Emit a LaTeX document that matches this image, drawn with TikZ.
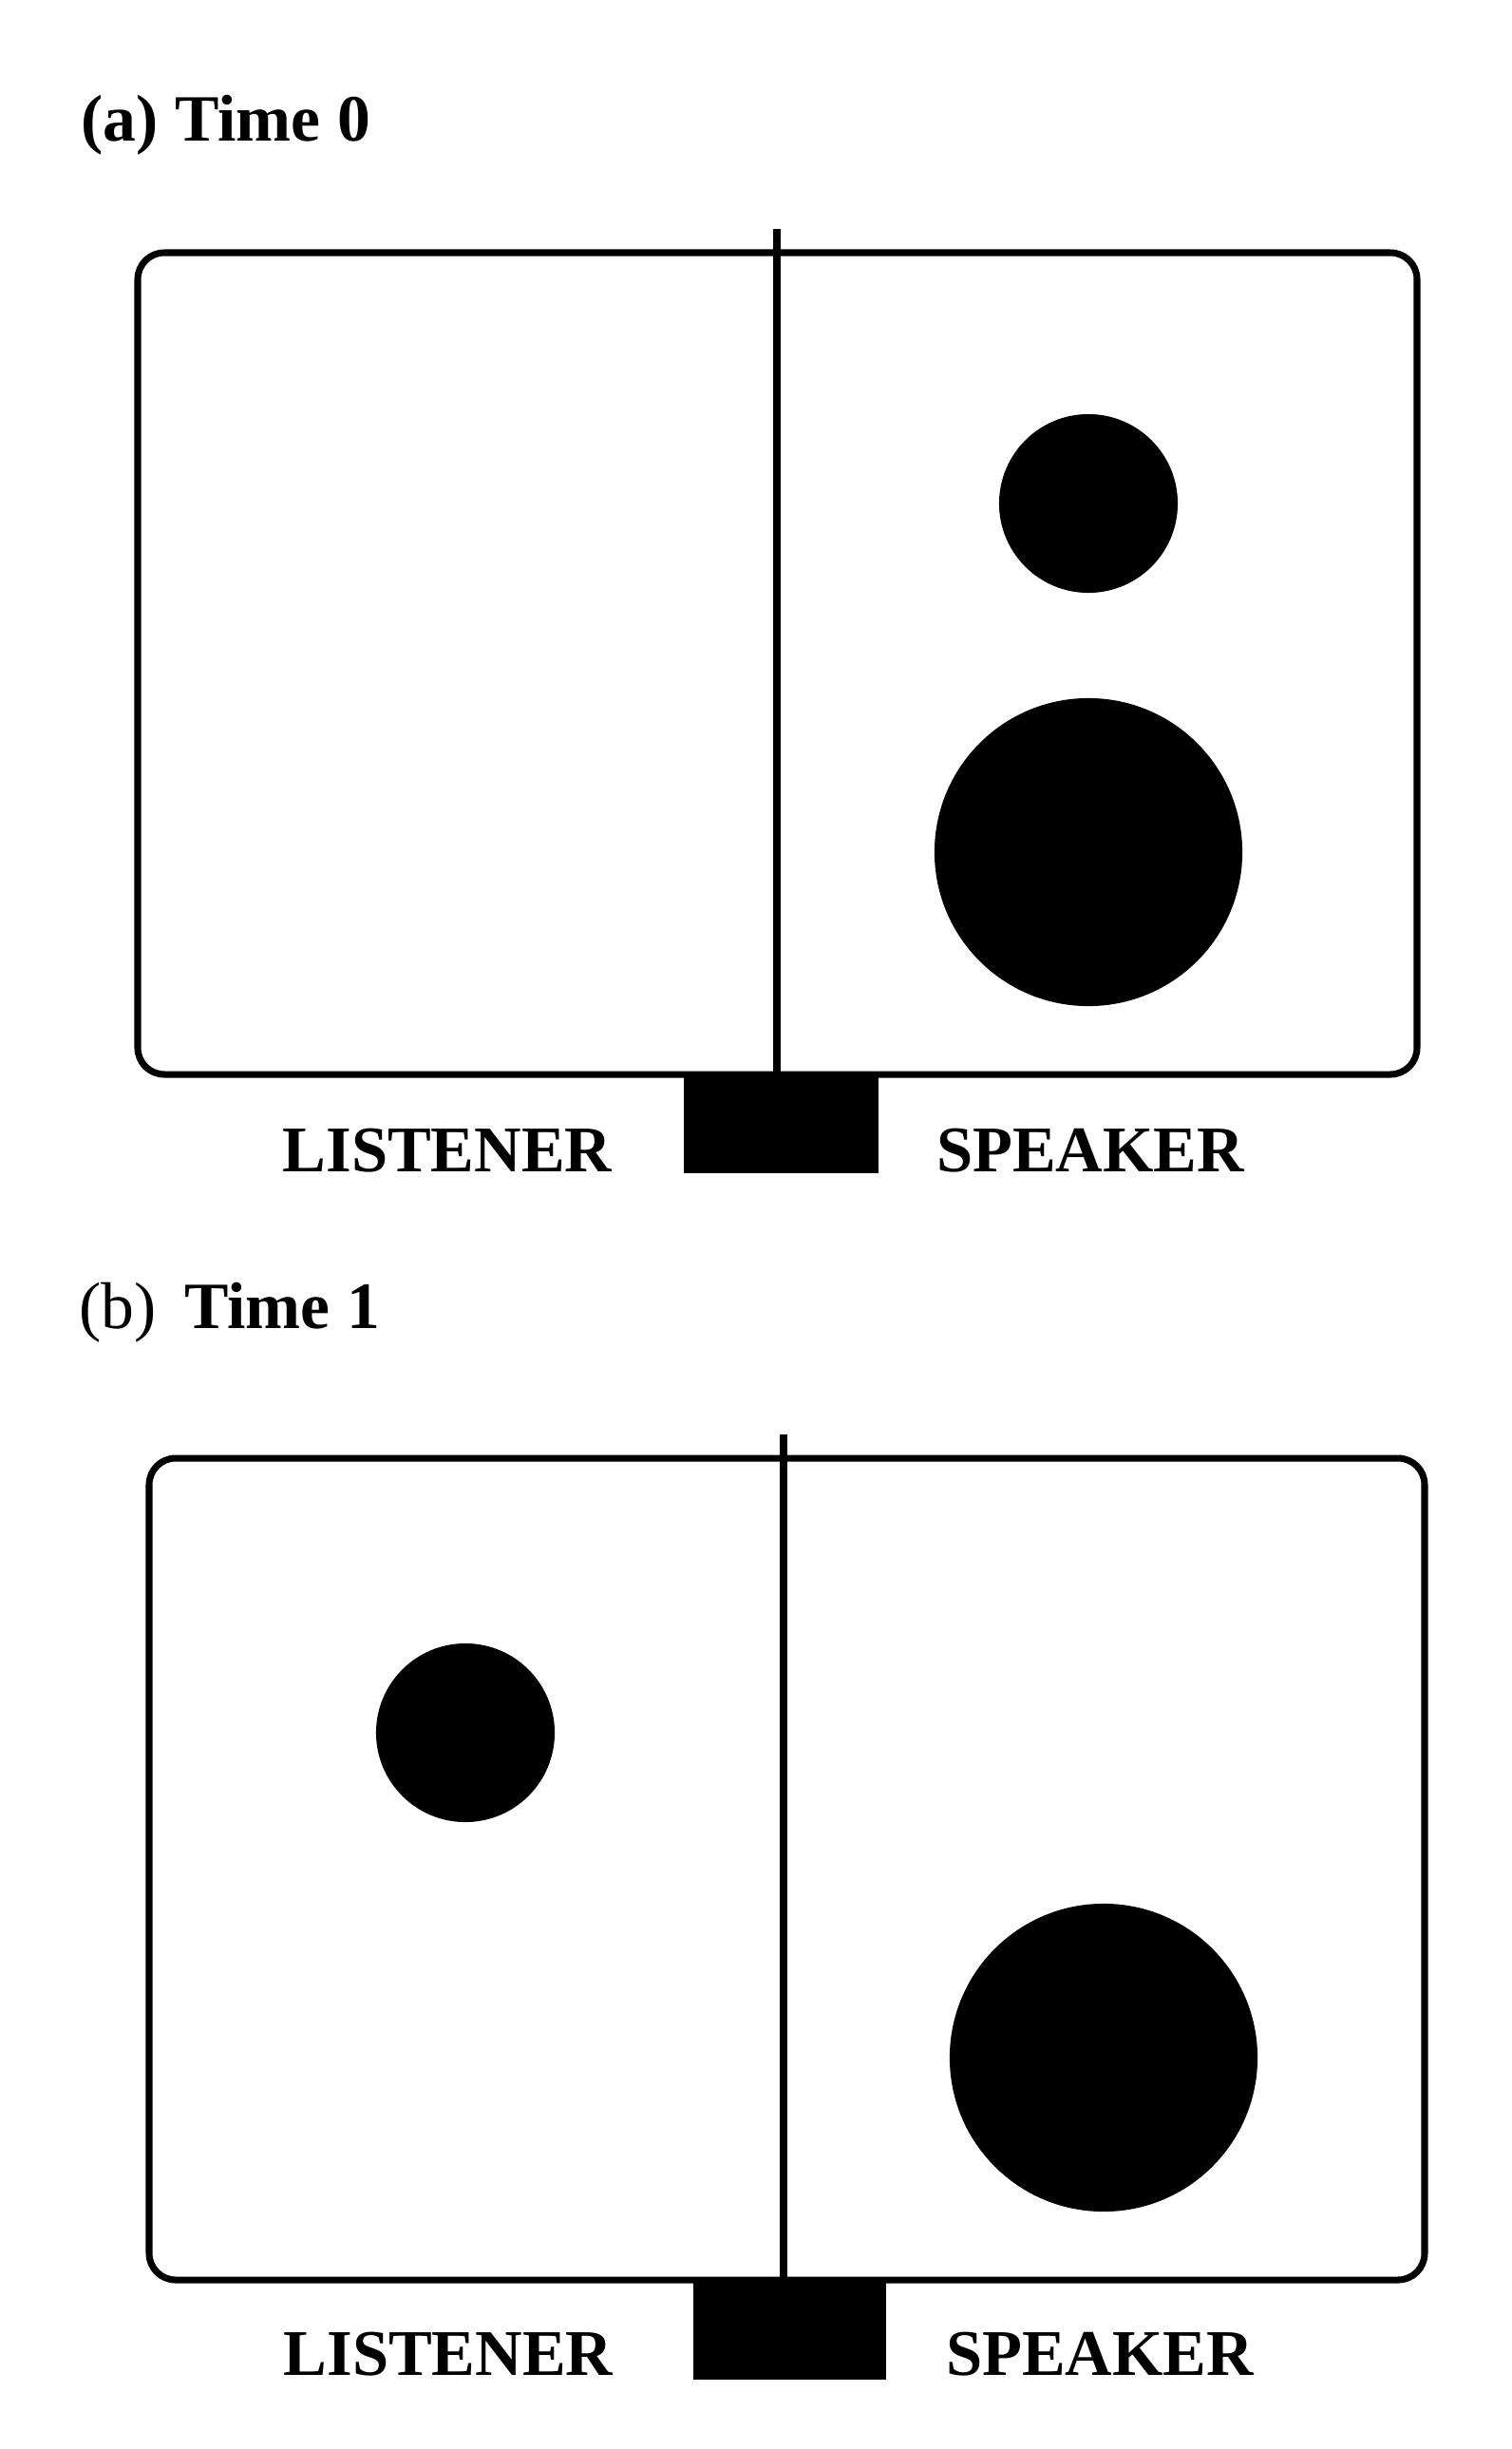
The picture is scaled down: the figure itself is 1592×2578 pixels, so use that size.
\documentclass[tikz,border=0pt]{standalone}
\usepackage{fontspec}
\setmainfont{Liberation Serif}
\begin{document}
\begin{tikzpicture}[x=0.01cm,y=-0.01cm,
 frame/.style={line width=2pt, rounded corners=0.28cm},
 divider/.style={line width=2.4pt},
 dot/.style={fill=black},
 lbl/.style={font=\fontsize{19.5}{23}\selectfont\bfseries, anchor=base, inner sep=0},
 ttl/.style={font=\fontsize{19.8}{23}\selectfont, anchor=base west, inner sep=0}]
\useasboundingbox (0,0) rectangle (1592,2578);
% ---------- panel (a)
\node[ttl] (ta) at (85,148) {\textbf{(a) Time 0}};
\draw[frame] (145,266) rectangle (1492,1131);
\coordinate (atop) at (818,241);
\coordinate (abot) at (818,1131);
\draw[divider] (atop) -- (abot);
\fill (720,1131) rectangle (925,1235);
\fill[dot] (1146,530) circle[radius=0.94cm];
\fill[dot] (1146,897) circle[radius=1.62cm];
\node[lbl] (la) at (471,1233) {LISTENER};
\node[lbl] (sa) at (1148,1233) {SPEAKER};
% ---------- panel (b)
\node[ttl] (tb) at (83,1398) {(b)\hspace{0.12cm} \textbf{Time 1}};
\draw[frame] (157,1535) rectangle (1500,2400);
\coordinate (btop) at (825,1510);
\coordinate (bbot) at (825,2400);
\draw[divider] (btop) -- (bbot);
\fill (730,2400) rectangle (933,2505);
\fill[dot] (490,1824) circle[radius=0.94cm];
\fill[dot] (1162,2166) circle[radius=1.62cm];
\node[lbl] (lb) at (472,2500) {LISTENER};
\node[lbl] (sb) at (1158,2500) {SPEAKER};
\end{tikzpicture}
\end{document}
